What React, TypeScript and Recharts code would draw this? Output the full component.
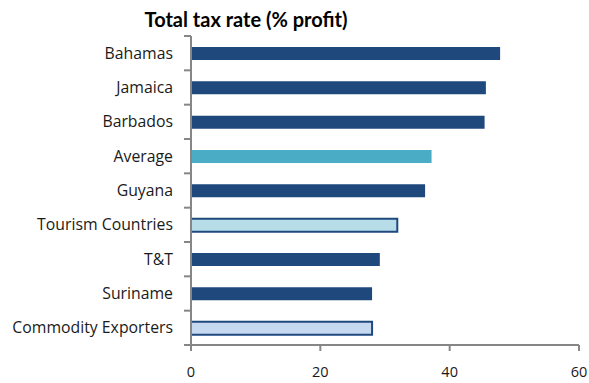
import { Bar, BarChart, Cell, XAxis, YAxis } from "recharts";

const categories = [
  "Bahamas",
  "Jamaica",
  "Barbados",
  "Average",
  "Guyana",
  "Tourism Countries",
  "T&T",
  "Suriname",
  "Commodity Exporters",
];
const taxRate = [47.8, 45.6, 45.4, 37.2, 36.2, 31.9, 29.2, 28.0, 28.0];
const xTicks = [0, 20, 40, 60];

const NAVY = "#1F497D";
const AXIS = "#868686";
const FONT = "'Open Sans', Lato, sans-serif";

// fill / stroke per bar (index-aligned with categories)
const fills = [NAVY, NAVY, NAVY, "#4BACC6", NAVY, "#B7DEE8", NAVY, NAVY, "#C6D9F1"];
const outlined = [false, false, false, false, false, true, false, false, true];

const W = 589;
const H = 383;
const M = { top: 36, right: 10, bottom: 8, left: 11 };
const Y_W = 180;
const X_H = 30;
const band = (H - M.top - M.bottom - X_H) / categories.length;

const data = categories.map((name, i) => ({ name, value: taxRate[i] }));

const LABEL_GAP = 18;

// label + tick mark at the band boundary (Excel style)
function CatTick(props: any) {
  const { x, y, payload, index } = props;
  const ax = x + LABEL_GAP;
  return (
    <g>
      <text
        x={x}
        y={y}
        dy="0.35em"
        textAnchor="end"
        fontSize={15.8}
        fontFamily={FONT}
        fill="#1a1a1a"
      >
        {payload.value}
      </text>
      <line x1={ax - 7} x2={ax} y1={y - band / 2} y2={y - band / 2} stroke={AXIS} strokeWidth={2} />
      {index === categories.length - 1 && (
        <line x1={ax - 7} x2={ax} y1={y + band / 2} y2={y + band / 2} stroke={AXIS} strokeWidth={2} />
      )}
    </g>
  );
}

export default function App() {
  return (
    <div style={{ position: "absolute", left: 0, top: 0, width: W, height: H, background: "#fff" }}>
      <div
        style={{
          position: "absolute",
          left: 96,
          top: 7,
          width: 300,
          textAlign: "center",
          fontFamily: "Lato, sans-serif",
          fontWeight: 700,
          fontSize: 20,
          whiteSpace: "nowrap",
          color: "#000",
        }}
      >
        Total tax rate (% profit)
      </div>
      <BarChart width={W} height={H} data={data} layout="vertical" margin={M} barCategoryGap={0}>
        <XAxis
          type="number"
          domain={[0, 60]}
          ticks={xTicks}
          interval={0}
          height={X_H}
          tickSize={6}
          tickMargin={16}
          axisLine={{ stroke: AXIS, strokeWidth: 2 }}
          tickLine={{ stroke: AXIS, strokeWidth: 2 }}
          tick={{ fontSize: 14.5, fontFamily: FONT, fill: "#1a1a1a" }}
        />
        <YAxis
          type="category"
          dataKey="name"
          width={Y_W}
          interval={0}
          tickSize={0}
          tickMargin={LABEL_GAP}
          axisLine={{ stroke: AXIS, strokeWidth: 2 }}
          tickLine={false}
          tick={<CatTick />}
        />
        <Bar dataKey="value" barSize={13} isAnimationActive={false}>
          {data.map((d, i) => (
            <Cell
              key={d.name}
              fill={fills[i]}
              stroke={outlined[i] ? NAVY : "none"}
              strokeWidth={outlined[i] ? 2 : 0}
            />
          ))}
        </Bar>
      </BarChart>
    </div>
  );
}
